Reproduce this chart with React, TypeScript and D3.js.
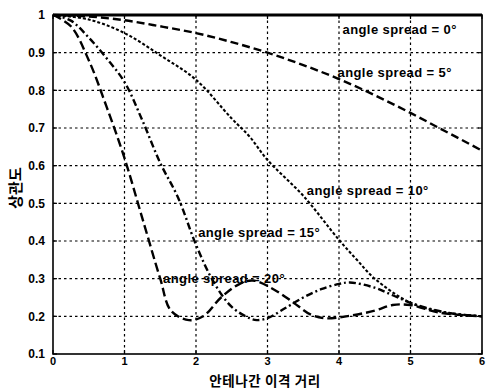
import React from "react";
import * as d3 from "d3";

// Distance between antennas (in wavelengths) at which each curve is sampled
const xs0 = [0, 6];
const ys0 = [1, 1];

const xs5 = [0, 0.5, 1, 1.5, 2, 2.5, 3, 3.5, 4, 4.5, 5, 5.5, 6];
const ys5 = [1, 0.996, 0.986, 0.97, 0.952, 0.928, 0.9, 0.867, 0.83, 0.787, 0.74, 0.69, 0.64];

const xs10 = [0, 0.5, 1, 1.5, 2, 2.5, 2.75, 3, 3.5, 4, 4.25, 4.5, 5, 5.5, 6];
const ys10 = [1, 0.988, 0.952, 0.893, 0.828, 0.725, 0.677, 0.615, 0.52, 0.403, 0.35, 0.3, 0.236, 0.21, 0.2];

const xs15 = [0, 0.25, 0.5, 0.75, 1, 1.25, 1.5, 1.75, 2, 2.25, 2.5, 2.75, 2.85, 3, 3.25, 3.5, 3.75, 4, 4.15, 4.5, 4.75, 5, 5.5, 6];
const ys15 = [1, 0.985, 0.94, 0.885, 0.822, 0.72, 0.607, 0.515, 0.39, 0.29, 0.225, 0.195, 0.19, 0.195, 0.222, 0.25, 0.272, 0.286, 0.29, 0.276, 0.256, 0.236, 0.21, 0.2];

const xs20 = [0, 0.25, 0.5, 0.75, 1, 1.25, 1.5, 1.65, 1.9, 2.1, 2.35, 2.6, 2.8, 3.1, 3.36, 3.6, 3.8, 4.1, 4.5, 4.75, 5, 5.4, 6];
const ys20 = [1, 0.97, 0.88, 0.756, 0.62, 0.46, 0.3, 0.215, 0.19, 0.2, 0.25, 0.285, 0.295, 0.27, 0.237, 0.205, 0.195, 0.2, 0.215, 0.23, 0.23, 0.21, 0.2];

const xTicks = [0, 1, 2, 3, 4, 5, 6];
const yTicks = [0.1, 0.2, 0.3, 0.4, 0.5, 0.6, 0.7, 0.8, 0.9, 1];

const curveNames = ["angle spread = 0°", "angle spread = 5°", "angle spread = 10°", "angle spread = 15°", "angle spread = 20°"];

const W = 486;
const H = 389;
const left = 53;
const right = 482;
const top = 15;
const bottom = 354;

export default function App() {
  const x = d3.scaleLinear().domain([0, 6]).range([left, right]);
  const y = d3.scaleLinear().domain([0.1, 1]).range([bottom, top]);

  const line = d3
    .line<[number, number]>()
    .x((d) => x(d[0]))
    .y((d) => y(d[1]))
    .curve(d3.curveCatmullRom.alpha(0.5));

  const zip = (a: number[], b: number[]) => a.map((v, i) => [v, b[i]] as [number, number]);

  const series = [
    { pts: zip(xs0, ys0), dash: "none", w: 2.8 },
    { pts: zip(xs5, ys5), dash: "8,4", w: 2.4 },
    { pts: zip(xs10, ys10), dash: "3,2", w: 2.1 },
    { pts: zip(xs15, ys15), dash: "7,3,2,3", w: 2.4 },
    { pts: zip(xs20, ys20), dash: "9,4", w: 2.4 },
  ];

  // label anchor positions in data units (x = start of text, y = vertical centre)
  const labelPos: [number, number][] = [
    [4.05, 0.962],
    [3.98, 0.848],
    [3.55, 0.535],
    [2.03, 0.424],
    [1.54, 0.3],
  ];

  const font = "'Liberation Sans', Arial, sans-serif";

  return (
    <div style={{ position: "fixed", left: 0, top: 0 }}>
      <svg width={W} height={H} style={{ display: "block", background: "#fff" }}>
        {/* grid */}
        <g stroke="#000" strokeWidth={1.2} strokeDasharray="2.5,3">
          {xTicks.slice(1, -1).map((t) => (
            <line key={"gx" + t} x1={x(t)} x2={x(t)} y1={top} y2={bottom} />
          ))}
          {yTicks.slice(1, -1).map((t) => (
            <line key={"gy" + t} x1={left} x2={right} y1={y(t)} y2={y(t)} />
          ))}
        </g>

        {/* curves */}
        <g fill="none" stroke="#000" strokeLinecap="butt" strokeLinejoin="round">
          {series.map((s, i) => (
            <path key={i} d={line(s.pts) || ""} strokeWidth={s.w} strokeDasharray={s.dash} />
          ))}
        </g>

        {/* frame */}
        <rect x={left} y={top} width={right - left} height={bottom - top} fill="none" stroke="#000" strokeWidth={1.6} />

        {/* ticks */}
        <g stroke="#000" strokeWidth={1.2}>
          {xTicks.map((t) => (
            <g key={"tx" + t}>
              <line x1={x(t)} x2={x(t)} y1={bottom} y2={bottom - 4} />
              <line x1={x(t)} x2={x(t)} y1={top} y2={top + 4} />
            </g>
          ))}
          {yTicks.map((t) => (
            <g key={"ty" + t}>
              <line x1={left} x2={left + 4} y1={y(t)} y2={y(t)} />
              <line x1={right} x2={right - 4} y1={y(t)} y2={y(t)} />
            </g>
          ))}
        </g>

        {/* tick labels */}
        <g fontFamily={font} fontWeight="bold" fill="#000">
          {xTicks.map((t) => (
            <text key={"lx" + t} x={x(t)} y={bottom + 11} textAnchor="middle" fontSize={11}>
              {d3.format("d")(t)}
            </text>
          ))}
          {yTicks.map((t) => (
            <text key={"ly" + t} x={left - 8} y={y(t)} dy="0.35em" textAnchor="end" fontSize={12}>
              {t === 1 ? "1" : d3.format(".1f")(t)}
            </text>
          ))}
        </g>

        {/* curve labels */}
        <g fontFamily={font} fontWeight="bold" fontSize={13} letterSpacing={0.4} fill="#000">
          {curveNames.map((n, i) => (
            <text key={n} x={x(labelPos[i][0])} y={y(labelPos[i][1])} dy="0.35em">
              {n}
            </text>
          ))}
        </g>

        {/* axis titles */}
        <text
          x={265}
          y={385.5}
          textAnchor="middle"
          fontFamily="'Noto Sans CJK KR', sans-serif"
          fontWeight="bold"
          fontSize={13.5}
          letterSpacing={0.6}
        >
          안테나간 이격 거리
        </text>
        <text
          transform={`translate(21,188) rotate(-90)`}
          textAnchor="middle"
          fontFamily="'Noto Sans CJK KR', sans-serif"
          fontWeight="bold"
          fontSize={15}
        >
          상관도
        </text>
      </svg>
    </div>
  );
}
